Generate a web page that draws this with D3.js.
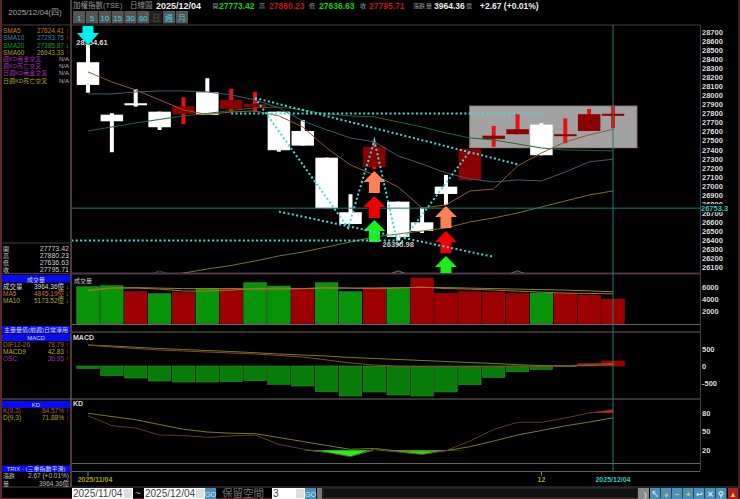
<!DOCTYPE html>
<html>
<head>
<meta charset="utf-8">
<script src="https://cdn.jsdelivr.net/npm/d3@7"></script>
<style>
html, body { margin: 0; padding: 0; background: #000; overflow: hidden; }
svg { display: block; }
text { font-family: "Liberation Sans", "Noto Sans CJK TC", sans-serif; }
</style>
</head>
<body>
<script>
const dates = ["2025/11/04", "12", "2025/12/04"]
const dateIdx = [0, 19, 22]

// 23 daily candles
const open = [28365, 27786, 27912, 27819, 27794, 28034, 27849, 27868, 27819, 27606, 27311, 26708, 27208, 26825, 26597, 26991, 27065, 27518, 27570, 27676, 27548, 27606, 27773.42]
const close = [28114, 27713, 27893, 27647, 27879, 27783, 27949, 27904, 27393, 27444, 26752, 26578, 27429, 26435, 26501, 26910, 27407, 27554, 27625, 27338, 27570, 27791, 27795.71]
const high = [28554.61, 27802, 28067, 27819, 27978, 28188, 28073, 28034, 27819, 27728, 27311, 26907, 27481, 26825, 26759, 27120, 27407, 27661, 27794, 27695, 27746, 27849, 27880.23]
const low = [28029, 27371, 27875, 27617, 27680, 27783, 27808, 27813, 27377, 27444, 26752, 26578, 27186, 26395.98, 26479, 26788, 27060, 27430, 27570, 27338, 27470, 27606, 27636.63]

const sma5 = [28258, 28147, 28059, 27949, 27838, 27788, 27816, 27827, 27772, 27650, 27418, 27230, 27120, 26987, 26755, 26788, 26943, 26965, 27219, 27363, 27485, 27562, 27624.41]
const sma10 = [28015, 28015, 28037, 28048, 28048, 28037, 28004, 27949, 27860, 27717, 27617, 27529, 27485, 27330, 27241, 27142, 27076, 27043, 27065, 27054, 27153, 27264, 27293.75]
const sma20 = [27606, 27650, 27694, 27733, 27772, 27799, 27833, 27860, 27871, 27838, 27794, 27772, 27761, 27705, 27650, 27584, 27529, 27507, 27462, 27418, 27396, 27391, 27385.87]
const sma60 = [25827, 25882, 25938, 25993, 26037, 26081, 26120, 26170, 26225, 26269, 26324, 26380, 26435, 26468, 26501, 26534, 26601, 26645, 26700, 26766, 26833, 26899, 26943.33]

const volume = [5984, 6146, 5171, 4846, 5008, 5724, 5659, 6634, 6098, 5561, 6634, 5171, 5821, 5724, 7398, 4911, 5171, 5073, 4846, 4959, 4911, 4585, 3964.36]
const volUp = [0, 0, 1, 0, 1, 0, 1, 0, 0, 1, 0, 0, 1, 0, 1, 1, 1, 1, 1, 0, 1, 1, 1]
const volMa5 = [5366, 5772, 5772, 5610, 5285, 5285, 5447, 5691, 5772, 5691, 5854, 5772, 5691, 5772, 5935, 5691, 5610, 5447, 5285, 5122, 4959, 4900, 4845.19]
const volMa10 = [5447, 5772, 5854, 5772, 5691, 5691, 5691, 5610, 5610, 5691, 5772, 5772, 5772, 5854, 5886, 5854, 5772, 5691, 5610, 5528, 5447, 5317, 5173.52]

const osc = [-75, -290, -359, -449, -479, -479, -470, -440, -548, -599, -769, -898, -778, -868, -898, -778, -560, -338, -171, -99, -20, 81, 150]
const dif = [629, 569, 524, 479, 449, 419, 389, 359, 314, 269, 180, 90, 30, -9, -15, -15, -15, -12, -9, -9, 6, 45, 78.79]
const macd9 = [629, 599, 560, 524, 494, 464, 434, 398, 359, 329, 299, 254, 225, 195, 165, 135, 105, 75, 39, 12, 6, 18, 42.83]

const kLine = [75.2, 59.2, 55.6, 44.4, 43.6, 40.7, 42.8, 44.4, 29.3, 22.1, 16.5, 9.8, 22, 17.3, 13.3, 19.4, 34.8, 53.2, 64.7, 64.7, 71.5, 79.6, 84.57]
const dLine = [79, 73.9, 68.8, 61.1, 53.5, 49.2, 47.3, 46.5, 40.4, 34, 27.7, 21.6, 22.9, 18.9, 17.3, 19.4, 25.7, 34.8, 44.4, 51.6, 59, 65.1, 71.88]

const priceTicks = d3.range(26100, 28701, 100)
const volTicks = [2000, 4000, 6000]
const macdTicks = [-500, 0, 500]
const kdTicks = [20, 50, 80]

// signal arrows: candle, tip price
const arrowIdx = [12, 12, 12, 15, 15, 15]
const arrowTip = [27164, 26888, 26623, 26777, 26501, 26225]
const arrowFill = ["#ff8055", "#f00000", "#19f019", "#ff8055", "#f00000", "#19f019"]
// arrows that only just show above the bottom of the price pane
const hiddenIdx = [3, 13, 18]
const hiddenTip = [26060, 26060, 26060]
const hiddenColor = ["#1d5a3a", "#777", "#7a6a50"]

// dotted trend lines: [candle, price, candle, price]
const trendLines = [
    [7, 27970, 18, 27238],
    [6, 27800, 19, 27800],
    [-0.7, 26397, 13, 26397],
    [8, 26715, 17, 26215]
]
const zigzag = [[7, 27970], [10.9, 26535], [12, 27500], [13, 26330], [16, 27380]]
const crossPrice = 26753.3
const crossIdx = 22
const boxPrices = [27880.23, 27421]
const boxIdx = [16, 23]

// left panel rows
const maNames = ["SMA5", "SMA10", "SMA20", "SMA60"]
const maValues = ["27624.41", "27293.75", "27385.87", "26943.33"]
const maArrows = ["↑", "↑", "↓", "↑"]
const maColors = ["#c87830", "#3f86a8", "#1f9a1f", "#a8a020"]
const crossNames = ["週KD黃金交叉", "週KD死亡交叉", "日週KD黃金交叉", "日週KD死亡交叉"]
const crossColors = ["#a030b0", "#a030b0", "#a030b0", "#a8a020"]
const ohlcNames = ["開", "高", "低", "收"]
const ohlcValues = ["27773.42", "27880.23", "27636.63", "27795.71"]

const width = 740
const height = 499
const frame = "#4a3a40"
const paneLine = "#666"
const teal = "#1f7a78"

const panes = {
    price: [25, 273],
    vol: [275, 324],
    macd: [333, 398],
    kd: [400, 463]
}
const left = 72
const right = 700

const x = d3.scaleLinear().domain([0, 22]).range([88, 613])
const bodyW = 22.5

const yPrice = d3.scaleLinear().domain([26100, 28700]).range([267.3, 31.9])
const yVol = d3.scaleLinear().domain([0, 6000]).range([323.5, 286.7])
const yMacd = d3.scaleLinear().domain([-500, 500]).range([382.7, 349.3])
const yKd = d3.scaleLinear().domain([20, 80]).range([450.3, 412.7])

const svg = d3.select("body").append("svg")
    .attr("width", width)
    .attr("height", height)

const defs = svg.append("defs")
Object.keys(panes).forEach(key => {
    defs.append("clipPath").attr("id", "clip-" + key).append("rect")
        .attr("x", left).attr("y", panes[key][0])
        .attr("width", right - left).attr("height", panes[key][1] - panes[key][0])
})

svg.append("rect").attr("width", width).attr("height", height).attr("fill", "#000")

function hline(y, x1, x2, color, w) {
    svg.append("line").attr("x1", x1).attr("x2", x2).attr("y1", y).attr("y2", y)
        .attr("stroke", color).attr("stroke-width", w || 1)
}
function vline(xp, y1, y2, color, w) {
    svg.append("line").attr("x1", xp).attr("x2", xp).attr("y1", y1).attr("y2", y2)
        .attr("stroke", color).attr("stroke-width", w || 1)
}
function label(str, xp, y, color, size, anchor, weight, parent) {
    return (parent || svg).append("text")
        .attr("x", xp).attr("y", y)
        .attr("fill", color)
        .attr("font-size", size)
        .attr("font-weight", weight || "normal")
        .attr("text-anchor", anchor || "start")
        .text(str)
}

// outer frame
vline(1, 0, height, "#5a2a2a", 2)
vline(739, 0, height, "#3a1a1a", 2)
hline(498.5, 0, width, "#5a2a2a", 1)
vline(71, 0, 487, frame, 2)
vline(700.5, 25, 471, frame, 1)
hline(25, 2, 700, frame, 1)
hline(243, 2, 70, frame, 1)
hline(273.5, 2, 70, frame, 1)
hline(273.5, 72, 700, "#503848", 2)
hline(324.5, 72, 700, paneLine, 1)
hline(332, 72, 700, paneLine, 1)
hline(399, 2, 700, paneLine, 1)
hline(463.5, 72, 700, paneLine, 1)
hline(471.5, 72, 700, paneLine, 1)
hline(487, 2, 740, "#444", 1)

// header
label("2025/12/04(四)", 35, 15, "#aaa", 8, "middle")
label("加權指數(TSE)", 73, 8, "#999", 7.5)
label("日線圖", 130, 8, "#999", 7.5)
label("2025/12/04", 156, 9, "#eee", 9, "start", "bold")
const headLabels = ["開", "高", "低", "收", "漲跌", "量"]
const headX = [212.5, 259, 309, 360, 413, 426]
headLabels.forEach((t, i) => label(t, headX[i], 8, "#999", 6))
label("27773.42", 219, 9, "#16d016", 8.5, "start", "bold")
label("27880.23", 269, 9, "#c81414", 8.5, "start", "bold")
label("27636.63", 319, 9, "#16d016", 8.5, "start", "bold")
label("27795.71", 369, 9, "#c81414", 8.5, "start", "bold")
label("3964.36", 434, 9, "#eee", 8.5, "start", "bold")
label("億", 466, 8, "#999", 6)
label("+2.67 (+0.01%)", 480, 9, "#eee", 8.5, "start", "bold")

// period buttons
const periods = ["1", "5", "10", "15", "30", "60", "日", "週", "月"]
const periodX = d3.scaleBand().domain(periods).range([73, 188]).paddingInner(0.05)
periods.forEach(p => {
    svg.append("rect").attr("x", periodX(p)).attr("y", 11)
        .attr("width", periodX.bandwidth()).attr("height", 12.5)
        .attr("fill", p === "日" ? "#222" : "#555")
    label(p, periodX(p) + periodX.bandwidth() / 2, 21, p === "日" ? "#555" : "#35d8e0", 8, "middle")
})

// left panel
maNames.forEach((n, i) => {
    const yy = 33 + i * 7.3
    label(n, 3, yy, maColors[i], 6.5)
    label(maValues[i], 64, yy, maColors[i], 6.5, "end")
    label(maArrows[i], 69, yy, maArrows[i] === "↑" ? "#f02020" : "#20d020", 6.5, "end")
})
crossNames.forEach((n, i) => {
    const yy = 61 + i * 7.2
    label(n, 3, yy, crossColors[i], 6)
    label("N/A", 69, yy, "#bbb", 6, "end")
})
ohlcNames.forEach((n, i) => {
    const yy = 250.5 + i * 7.2
    label(n, 3, yy, "#ccc", 6)
    label(ohlcValues[i], 69, yy, "#ccc", 7, "end")
})

function blueBar(str, y, h) {
    svg.append("rect").attr("x", 2).attr("y", y).attr("width", 68).attr("height", h).attr("fill", "#0a0af0")
    label(str, 36, y + h - 1, "#cfd8ff", 6, "middle")
}
blueBar("成交量", 275, 7.5)
blueBar("主量量值(前週)日常淨用", 326, 7)
blueBar("MACD", 334, 7)
blueBar("KD", 401, 7)
blueBar("TRIX - (三重指數平滑)", 465.5, 6.5)

const volRows = [["成交量", "3964.36億", "#ddd"], ["MA5", "4845.19億", "#c87830"], ["MA10", "5173.52億", "#b0b020"]]
volRows.forEach((r, i) => {
    const yy = 288.5 + i * 7
    label(r[0], 3, yy, r[2], 6.5)
    label(r[1], 64, yy, r[2], 6.5, "end")
    label("↓", 69, yy, "#20d020", 6.5, "end")
})
const macdRows = [["DIF12-26", "78.79", "#b06020"], ["MACD9", "42.83", "#b0b020"], ["OSC", "36.95", "#a030b0"]]
macdRows.forEach((r, i) => {
    const yy = 346.5 + i * 7
    label(r[0], 3, yy, r[2], 6.5)
    label(r[1], 64, yy, r[2], 6.5, "end")
    label("↑", 69, yy, "#f02020", 6.5, "end")
})
const kdRows = [["K(9,3)", "84.57%", "#b06020"], ["D(9,3)", "71.88%", "#a8a020"]]
kdRows.forEach((r, i) => {
    const yy = 413 + i * 7
    label(r[0], 3, yy, r[2], 6.5)
    label(r[1], 64, yy, r[2], 6.5, "end")
    label("↑", 69, yy, "#f02020", 6.5, "end")
})
label("漲跌", 3, 478, "#bbb", 6)
label("2.67 (+0.01%)", 69, 478, "#bbb", 6.5, "end")
label("量", 3, 485.5, "#bbb", 6)
label("3964.36億", 69, 485.5, "#bbb", 6.5, "end")

// ---- price pane
const gPrice = svg.append("g").attr("clip-path", "url(#clip-price)")

gPrice.append("rect")
    .attr("x", x(boxIdx[0])).attr("y", yPrice(boxPrices[0]))
    .attr("width", x(boxIdx[1]) - x(boxIdx[0]))
    .attr("height", yPrice(boxPrices[1]) - yPrice(boxPrices[0]))
    .attr("fill", "#a2a2a2")
    .attr("stroke", "#a88a90")

// sits under the arrow and the wick, only its ends show
label("28554.61", x(0) + 4, yPrice(high[0]) - 0.5, "#ddd", 7.5, "middle", "bold", gPrice)

const idx = d3.range(open.length)
const isUp = i => close[i] > open[i]

gPrice.selectAll(".wick").data(idx).enter().append("rect")
    .attr("x", i => x(i) - 2)
    .attr("y", i => yPrice(high[i]))
    .attr("width", 4)
    .attr("height", i => yPrice(low[i]) - yPrice(high[i]))
    .attr("fill", i => isUp(i) ? "#e81010" : "#fff")

gPrice.selectAll(".body").data(idx).enter().append("rect")
    .attr("x", i => x(i) - bodyW / 2)
    .attr("y", i => yPrice(Math.max(open[i], close[i])))
    .attr("width", bodyW)
    .attr("height", i => Math.max(2, Math.abs(yPrice(open[i]) - yPrice(close[i]))))
    .attr("fill", i => isUp(i) ? "#8b0000" : "#fff")

function drawLine(g, values, yScale, color) {
    const line = d3.line().x((d, i) => x(i)).y(d => yScale(d))
    g.append("path").datum(values).attr("d", line)
        .attr("fill", "none").attr("stroke", color).attr("stroke-width", 1)
}
drawLine(gPrice, sma20, yPrice, "#1c6a2c")
drawLine(gPrice, sma10, yPrice, "#3a5f70")
drawLine(gPrice, sma60, yPrice, "#76761e")
drawLine(gPrice, sma5, yPrice, "#8f5a2c")

// crosshair
gPrice.append("line")
    .attr("x1", left).attr("x2", right)
    .attr("y1", yPrice(crossPrice)).attr("y2", yPrice(crossPrice))
    .attr("stroke", teal)

function upArrow(g, cx, tipY, fill) {
    const a = d3.path()
    a.moveTo(cx, tipY)
    a.lineTo(cx + 11, tipY + 11)
    a.lineTo(cx + 5.5, tipY + 11)
    a.lineTo(cx + 5.5, tipY + 22)
    a.lineTo(cx - 5.5, tipY + 22)
    a.lineTo(cx - 5.5, tipY + 11)
    a.lineTo(cx - 11, tipY + 11)
    a.closePath()
    g.append("path").attr("d", a.toString()).attr("fill", fill)
}
hiddenIdx.forEach((k, i) => {
    const a = d3.path()
    a.moveTo(x(k) - 11, yPrice(hiddenTip[i]) + 4)
    a.lineTo(x(k), yPrice(hiddenTip[i]))
    a.lineTo(x(k) + 11, yPrice(hiddenTip[i]) + 4)
    gPrice.append("path").attr("d", a.toString()).attr("fill", "none").attr("stroke", hiddenColor[i])
})
arrowIdx.forEach((k, i) => upArrow(gPrice, x(k), yPrice(arrowTip[i]), arrowFill[i]))

// cyan down arrow on the high
{
    const tip = yPrice(high[0])
    const cx = x(0)
    const a = d3.path()
    a.moveTo(cx, tip)
    a.lineTo(cx + 11, tip - 12)
    a.lineTo(cx + 5.5, tip - 12)
    a.lineTo(cx + 5.5, tip - 19)
    a.lineTo(cx - 5.5, tip - 19)
    a.lineTo(cx - 5.5, tip - 12)
    a.lineTo(cx - 11, tip - 12)
    a.closePath()
    gPrice.append("path").attr("d", a.toString()).attr("fill", "#00f0f0")
}

const dotted = { stroke: "#48d8d8", width: 2, dash: "2,2.4" }
trendLines.forEach(t => {
    gPrice.append("line")
        .attr("x1", x(t[0])).attr("y1", yPrice(t[1]))
        .attr("x2", x(t[2])).attr("y2", yPrice(t[3]))
        .attr("stroke", dotted.stroke).attr("stroke-width", dotted.width)
        .attr("stroke-dasharray", dotted.dash)
})
gPrice.append("path").datum(zigzag)
    .attr("d", d3.line().x(d => x(d[0])).y(d => yPrice(d[1])))
    .attr("fill", "none")
    .attr("stroke", dotted.stroke).attr("stroke-width", dotted.width)
    .attr("stroke-dasharray", dotted.dash)

label("26395.98", x(13), yPrice(low[13]) + 6, "#ccc", 7.5, "middle", "bold")

// ---- volume pane
const gVol = svg.append("g").attr("clip-path", "url(#clip-vol)")
gVol.selectAll("rect").data(volume).enter().append("rect")
    .attr("x", (d, i) => x(i) - bodyW / 2)
    .attr("y", d => yVol(d))
    .attr("width", bodyW)
    .attr("height", d => yVol(0) - yVol(d))
    .attr("fill", (d, i) => volUp[i] ? "#9c0000" : "#089408")
    .attr("stroke", (d, i) => volUp[i] ? "#a81010" : "#30a030")
    .attr("stroke-width", 0.6)
drawLine(gVol, volMa10, yVol, "#8a8a20")
drawLine(gVol, volMa5, yVol, "#a87030")
label("成交量", 74, 283, "#ccc", 6)

// ---- macd pane
const gMacd = svg.append("g").attr("clip-path", "url(#clip-macd)")
gMacd.selectAll("rect").data(osc).enter().append("rect")
    .attr("x", (d, i) => x(i) - bodyW / 2)
    .attr("y", d => d > 0 ? yMacd(d) : yMacd(0))
    .attr("width", bodyW)
    .attr("height", d => Math.abs(yMacd(d) - yMacd(0)))
    .attr("fill", d => d > 0 ? "#9c0000" : "#087c08")
    .attr("stroke", d => d > 0 ? "#a81010" : "#2a942a")
    .attr("stroke-width", 0.6)
drawLine(gMacd, macd9, yMacd, "#7c7c1e")
drawLine(gMacd, dif, yMacd, "#8a4a20")
label("MACD", 73, 340, "#ddd", 7, "start", "bold")

// ---- kd pane
const gKd = svg.append("g").attr("clip-path", "url(#clip-kd)")
const areaLow = d3.area().x((d, i) => x(i)).y0(yKd(20)).y1(d => yKd(Math.min(d, 20)))
const areaHigh = d3.area().x((d, i) => x(i)).y0(yKd(80)).y1(d => yKd(Math.max(d, 80)))
gKd.append("path").datum(kLine).attr("d", areaLow).attr("fill", "#22f022")
gKd.append("path").datum(kLine).attr("d", areaHigh).attr("fill", "#e82010")
drawLine(gKd, dLine, yKd, "#7c7c1e")
drawLine(gKd, kLine, yKd, "#6a3a1c")
label("KD", 73, 406, "#ddd", 7, "start", "bold")

// vertical crosshair over all panes
vline(x(crossIdx), 25, 472, teal, 1)

// right hand axes
function rightAxis(scale, ticks) {
    const g = svg.append("g")
        .attr("transform", "translate(" + right + ",0)")
        .call(d3.axisRight(scale).tickValues(ticks).tickSize(0).tickPadding(2).tickFormat(d => String(d)))
    g.select(".domain").remove()
    g.selectAll("text").attr("fill", "#ddd").attr("font-size", 7.5).attr("font-weight", "bold")
        .attr("font-family", "Liberation Sans")
    return g
}
rightAxis(yPrice, priceTicks)
rightAxis(yVol, volTicks)
rightAxis(yMacd, macdTicks)
rightAxis(yKd, kdTicks)

svg.append("rect").attr("x", 702).attr("y", yPrice(crossPrice) - 4).attr("width", 30).attr("height", 8).attr("fill", "#000")
label("26753.3", 701, yPrice(crossPrice) + 3, "#2ac8c0", 7.5, "start", "bold")

// date row
label(dates[0], x(dateIdx[0]) + 7, 482, "#a8a020", 7, "middle", "bold")
vline(x(dateIdx[0]), 472, 476, "#888")
label(dates[1], x(dateIdx[1]), 482, "#a8a020", 7, "middle", "bold")
vline(x(dateIdx[1]), 472, 476, "#888")
label(dates[2], x(dateIdx[2]), 482, "#2ac8c0", 7, "middle", "bold")

// bottom controls
function inputBox(xp, w, str) {
    svg.append("rect").attr("x", xp).attr("y", 488).attr("width", w).attr("height", 11).attr("fill", "#fff")
    svg.append("rect").attr("x", xp + w - 9).attr("y", 489).attr("width", 8).attr("height", 9).attr("fill", "#ddd")
    label(str, xp + 1, 497, "#444", 10)
}
function blueBtn(xp, w, str) {
    svg.append("rect").attr("x", xp).attr("y", 488).attr("width", w).attr("height", 11).attr("fill", "#4a90b8")
    label(str, xp + w / 2, 496.5, "#d8e8f0", 7.5, "middle")
}
inputBox(72, 61, dates[0])
label("~", 138, 496.5, "#aaa", 10, "middle")
inputBox(144, 61, dates[2])
blueBtn(205, 11, "GO")
label("保留空間", 222, 496.5, "#777", 10.5)
inputBox(272, 33, "3")
blueBtn(305, 11, "GO")
svg.append("rect").attr("x", 317).attr("y", 488).attr("width", 5).attr("height", 11).attr("fill", "#777")
svg.append("rect").attr("x", 323).attr("y", 488).attr("width", 315).attr("height", 10).attr("fill", "#111").attr("stroke", "#333")
svg.append("rect").attr("x", 638).attr("y", 488).attr("width", 11).attr("height", 11).attr("fill", "#888")
label(")", 645, 496.5, "#eee", 8, "middle")
const iconGlyphs = ["↖", "◕", "−", "+", "↩", "✕", "⚲"]
const iconColors = ["#d8e8f0", "#ffb050", "#e8d040", "#e8d040", "#d8e8f0", "#d8e8f0", "#d8e8f0"]
iconGlyphs.forEach((g, i) => {
    const xp = 650 + i * 11
    svg.append("rect").attr("x", xp).attr("y", 488).attr("width", 10.5).attr("height", 11).attr("fill", "#4a90b8")
    label(g, xp + 5, 496.5, iconColors[i], 8, "middle", "bold").attr("font-family", "DejaVu Sans")
})
svg.append("rect").attr("x", 728).attr("y", 488).attr("width", 10).attr("height", 11).attr("fill", "#b02020")
label("▲", 733, 496.5, "#f0d060", 7.5, "middle").attr("font-family", "DejaVu Sans")
</script>
</body>
</html>
